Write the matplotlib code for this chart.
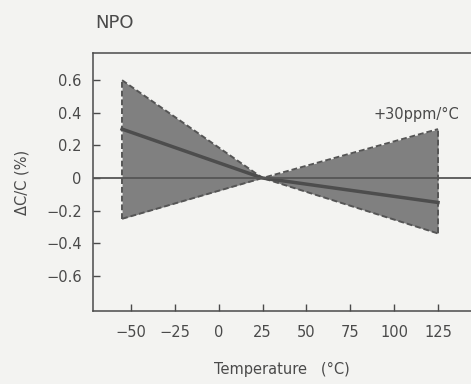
import numpy as np
import matplotlib.pyplot as plt

# temperature points (deg C) and dC/C (%)
temps = [-55, 25, 125]
upper = [0.60, 0.0, 0.30]
lower = [-0.25, 0.0, -0.34]
typical = [0.30, 0.0, -0.15]

xticks = [-50, -25, 0, 25, 50, 75, 100, 125]
xtick_labels = ["\u221250", "\u221225", "0", "25", "50", "75", "100", "125"]
yticks = [0.6, 0.4, 0.2, 0, -0.2, -0.4, -0.6]
ytick_labels = ["0.6", "0.4", "0.2", "0", "\u22120.2", "\u22120.4", "\u22120.6"]

bg = "#f3f3f1"
ink = "#4a4a4a"

fig = plt.figure(figsize=(4.71, 3.84), dpi=100, facecolor=bg)
ax = fig.add_axes([0.197, 0.19, 0.803, 0.672])
ax.set_facecolor(bg)

# shaded tolerance band with dashed border
dash = (0, (3, 1.5))
ax.fill_between(temps, lower, upper, color="#808080", lw=0, zorder=2)
ax.plot(temps, upper, ls=dash, color="#555555", lw=1.4, zorder=3)
ax.plot(temps, lower, ls=dash, color="#555555", lw=1.4, zorder=3)
ax.plot([temps[0], temps[0]], [lower[0], upper[0]], ls=dash, color="#555555", lw=1.4, zorder=3)
ax.plot([temps[-1], temps[-1]], [lower[-1], upper[-1]], ls=dash, color="#555555", lw=1.4, zorder=3)

# typical curve and zero line
ax.plot(temps, typical, color="#4d4d4d", lw=2.5, zorder=4)
ax.axhline(0, color="#555555", lw=1.3, zorder=4)

ax.text(137, 0.39, "+30ppm/\u00b0C", fontsize=10.5, color=ink, ha="right", va="center")

ax.set_xlim(-71.7, 143.8)
ax.set_ylim(-0.816, 0.767)
ax.set_xticks(xticks)
ax.set_xticklabels(xtick_labels, fontsize=10.5, color=ink)
ax.set_yticks(yticks)
ax.set_yticklabels(ytick_labels, fontsize=10.5, color=ink)
ax.tick_params(direction="in", length=5, width=1, color=ink)
ax.tick_params(axis="x", pad=10)
ax.tick_params(axis="y", pad=8)

ax.spines["right"].set_visible(False)
for s in ["left", "top", "bottom"]:
    ax.spines[s].set_color(ink)
    ax.spines[s].set_linewidth(1.1)

ax.set_xlabel("Temperature   (\u00b0C)", fontsize=10.5, color=ink, labelpad=16)
ax.set_ylabel("\u0394C/C (%)", fontsize=10.5, color=ink, labelpad=12)
fig.text(0.202, 0.94, "NPO", fontsize=13, color=ink, ha="left", va="center")

fig.savefig("out.png", dpi=100, facecolor=bg)
